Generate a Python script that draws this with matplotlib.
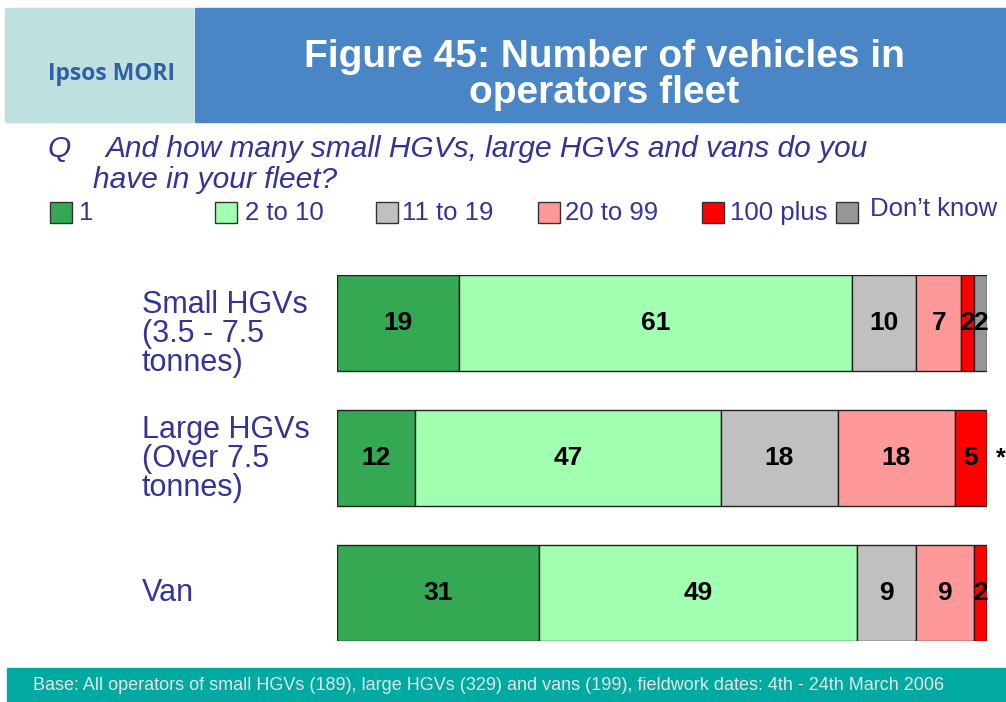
import numpy as np
import matplotlib
matplotlib.use('Agg')
import matplotlib.pyplot as plt
from matplotlib.patches import Rectangle

plt.rcParams['font.family'] = ['Liberation Sans', 'DejaVu Sans']

W, H = 1006, 702

categories = ['Small HGVs\n(3.5 - 7.5\ntonnes)', 'Large HGVs\n(Over 7.5\ntonnes)', 'Van']
series_names = ['1', '2 to 10', '11 to 19', '20 to 99', '100 plus', 'Don\u2019t know']
small_hgv = [19, 61, 10, 7, 2, 2]
large_hgv = [12, 47, 18, 18, 5, 0]
van = [31, 49, 9, 9, 2, 0]
colors = ['#34A853', '#A0FFB0', '#C0C0C0', '#FF9999', '#FF0000', '#969696']
navy = '#333399'


def fx(px):
    return px / W


def fy(py):
    return 1 - py / H


fig = plt.figure(figsize=(W / 100, H / 100), dpi=100)

# header blocks
fig.patches.append(Rectangle((fx(5), fy(122)), fx(188), 114 / H,
                             transform=fig.transFigure, color='#C0E0E0', zorder=0))
fig.patches.append(Rectangle((fx(195), fy(122)), fx(811), 114 / H,
                             transform=fig.transFigure, color='#4A86C5', zorder=0))
fig.text(fx(112), fy(74), 'Ipsos MORI', color='#3060A8', fontsize=16.5,
         fontweight='bold', ha='center', va='center', family=['Open Sans', 'DejaVu Sans'])
fig.text(fx(604), fy(75), 'Figure 45: Number of vehicles in\noperators fleet', color='white',
         fontsize=28, fontweight='bold', ha='center', va='center', linespacing=1.0)

# question
fig.text(fx(48), fy(149), 'Q', color=navy, fontsize=21.5, style='italic', va='center')
fig.text(fx(105), fy(149), 'And how many small HGVs, large HGVs and vans do you',
         color=navy, fontsize=21.5, style='italic', va='center')
fig.text(fx(93), fy(180), 'have in your fleet?', color=navy, fontsize=21.5,
         style='italic', va='center')

# legend
leg_box_x = [50, 215, 376, 538, 702, 836]
leg_txt_x = [79, 245, 402, 565, 730, 870]
for i, name in enumerate(series_names):
    fig.patches.append(Rectangle((fx(leg_box_x[i]), fy(223)), fx(22), 21 / H,
                                 transform=fig.transFigure, facecolor=colors[i],
                                 edgecolor='#333333', lw=1))
    fig.text(fx(leg_txt_x[i]), fy(213 if i < 5 else 209), name, color=navy,
             fontsize=18.5, va='center')

# stacked bars
data = np.array([small_hgv, large_hgv, van], dtype=float)
pct = data / data.sum(axis=1, keepdims=True) * 100
ax = fig.add_axes([fx(337), fy(641), fx(650), 366 / H])
h = 0.714
y = np.arange(len(categories))
left = np.zeros(len(categories))
for j in range(len(series_names)):
    ax.barh(y, pct[:, j], left=left, height=h, color=colors[j],
            edgecolor='#222222', linewidth=1)
    for i in range(len(categories)):
        if data[i, j] > 0:
            ax.text(left[i] + pct[i, j] / 2, y[i], '%d' % data[i, j], ha='center',
                    va='center', fontsize=19, fontweight='bold', color='black')
    left += pct[:, j]
ax.text(101.3, 1, '*', ha='left', va='center', fontsize=18, fontweight='bold')
ax.set_xlim(0, 100)
ax.set_ylim(2 + h / 2, -h / 2)
ax.axis('off')

# category labels
label_y = [334, 459, 593]
for lab, yy in zip(categories, label_y):
    fig.text(fx(142), fy(yy), lab, color=navy, fontsize=22, va='center',
             linespacing=0.95)

# footer
fig.patches.append(Rectangle((fx(7), 0), fx(999), 34 / H,
                             transform=fig.transFigure, color='#00AAA0', zorder=0))
fig.text(fx(33), fy(686), 'Base: All operators of small HGVs (189), large HGVs (329) and vans (199), '
         'fieldwork dates: 4th - 24th March 2006', color='#E6E6E6', fontsize=13, va='center')

fig.savefig('out.png', dpi=100)
